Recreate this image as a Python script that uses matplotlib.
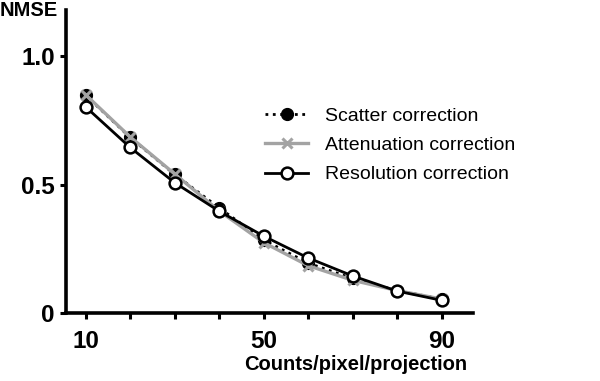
import matplotlib
matplotlib.use('Agg')
import matplotlib.pyplot as plt

plt.rcParams['font.family'] = ['Liberation Sans', 'DejaVu Sans']

# Datos
cuentas = [10, 20, 30, 40, 50, 60, 70, 80, 90]
nmse_scatter = [0.848, 0.684, 0.540, 0.410, 0.285, 0.195, 0.135, 0.088, 0.055]
nmse_atten = [0.850, 0.686, 0.542, 0.398, 0.275, 0.185, 0.128, 0.088, 0.055]
nmse_resol = [0.803, 0.645, 0.508, 0.397, 0.300, 0.215, 0.145, 0.086, 0.050]

x_ticks = [10, 20, 30, 40, 50, 60, 70, 80, 90]
x_labels = ['10', '', '', '', '50', '', '', '', '90']
y_ticks = [0, 0.5, 1.0]
y_labels = ['0', '0.5', '1.0']

gris = '#a3a3a3'

fig = plt.figure(figsize=(6, 3.81), dpi=100)
ax = fig.add_axes([0.11, 0.178, 0.678, 0.796])

ax.plot(cuentas, nmse_scatter, linestyle=':', color='black', linewidth=2,
        marker='o', markersize=8.5, markerfacecolor='black', markeredgecolor='black',
        label='Scatter correction')
ax.plot(cuentas, nmse_atten, linestyle='-', color=gris, linewidth=2.4,
        marker='x', markersize=7.5, markeredgewidth=2.2, markeredgecolor=gris,
        label='Attenuation correction')
ax.plot(cuentas, nmse_resol, linestyle='-', color='black', linewidth=2,
        marker='o', markersize=8.5, markerfacecolor='white', markeredgecolor='black',
        markeredgewidth=1.8, label='Resolution correction')

ax.set_xlim(5.6, 97)
ax.set_ylim(0, 1.18)
ax.set_xticks(x_ticks)
ax.set_xticklabels(x_labels)
ax.set_yticks(y_ticks)
ax.set_yticklabels(y_labels)

for s in ['top', 'right']:
    ax.spines[s].set_visible(False)
for s in ['left', 'bottom']:
    ax.spines[s].set_linewidth(2.6)

ax.tick_params(axis='both', direction='out', length=4, width=2.2, labelsize=17.5)
ax.tick_params(axis='x', pad=8)
ax.tick_params(axis='y', pad=4)
for lbl in ax.get_xticklabels() + ax.get_yticklabels():
    lbl.set_fontweight('bold')

fig.text(0.0, 0.972, 'NMSE', fontsize=14.5, fontweight='bold', ha='left', va='center')
fig.text(0.592, 0.042, 'Counts/pixel/projection', fontsize=14.5, fontweight='bold',
         ha='center', va='center')

ax.legend(loc='upper left', bbox_to_anchor=(0.429, 0.739), bbox_transform=fig.transFigure,
          frameon=False, fontsize=14, handlelength=2.2, handletextpad=0.88,
          labelspacing=0.6, borderaxespad=0)

fig.savefig('out.png', dpi=100)
